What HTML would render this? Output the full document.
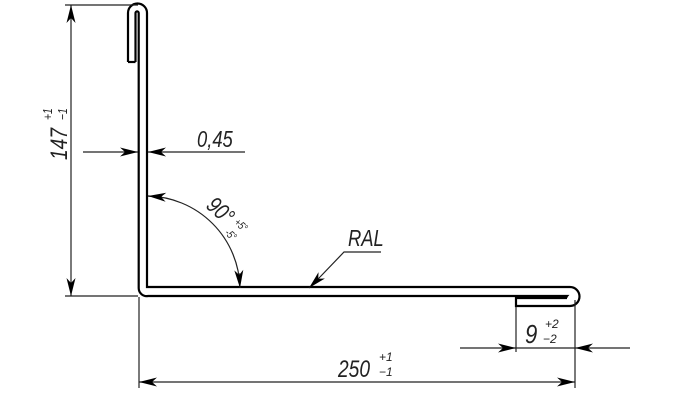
<!DOCTYPE html>
<html><head><meta charset="utf-8"><style>
html,body{margin:0;padding:0;background:#fff;}
svg{display:block;}
text{font-family:"Liberation Sans","DejaVu Sans",sans-serif;font-style:italic;fill:#222;}
</style></head><body>
<svg width="700" height="415" viewBox="0 0 700 415" xmlns="http://www.w3.org/2000/svg">
<defs>
<marker id="a" markerWidth="18" markerHeight="10" refX="18" refY="5" orient="auto" markerUnits="userSpaceOnUse">
<path d="M0,0.5 L18,5 L0,9.5 L5,5 Z" fill="#000"/></marker>
</defs>
<g fill="none" stroke="#000" stroke-width="2.2">
<path d="M128,62 L128,13 A9.5,9.5 0 0 1 147,13 L147,287 L570,287 A5,5 0 0 1 570,306 L516,306 L516,298 L567,298"/>
<path d="M135.5,62 L135.5,13 A1.6,1.6 0 0 1 138.7,13 L138.7,288 A8,8 0 0 0 148,296 L567,296 A1.5,1.5 0 0 0 567,298"/>
<path d="M128,62 L135.5,62"/>
</g>
<g fill="none" stroke="#222" stroke-width="1.2">
<line x1="65" y1="5" x2="138" y2="5"/>
<line x1="65" y1="296" x2="138" y2="296"/>
<line x1="139" y1="297" x2="139" y2="388"/>
<line x1="575" y1="300" x2="575" y2="388"/>
<line x1="516" y1="307" x2="516" y2="352"/>
<line x1="71" y1="22" x2="71" y2="280"/>
<line x1="71" y1="22" x2="71" y2="5" marker-end="url(#a)"/>
<line x1="71" y1="280" x2="71" y2="296" marker-end="url(#a)"/>
<line x1="83" y1="152" x2="138" y2="152" marker-end="url(#a)"/>
<line x1="245" y1="152" x2="148" y2="152" marker-end="url(#a)"/>
<path d="M148,196 A94,94 0 0 1 240,288"/>
<line x1="162" y1="197" x2="148" y2="196" marker-end="url(#a)"/>
<line x1="239" y1="273" x2="240" y2="288" marker-end="url(#a)"/>
<polyline points="381,252 344,252 320,277"/>
<line x1="320" y1="277" x2="309" y2="288" marker-end="url(#a)"/>
<line x1="160" y1="382" x2="555" y2="382"/>
<line x1="160" y1="382" x2="139" y2="382" marker-end="url(#a)"/>
<line x1="555" y1="382" x2="575" y2="382" marker-end="url(#a)"/>
<line x1="460" y1="348" x2="516" y2="348" marker-end="url(#a)"/>
<line x1="630" y1="348" x2="575" y2="348" marker-end="url(#a)"/>
<line x1="516" y1="348" x2="575" y2="348"/>
</g>
<g transform="translate(197,147) scale(0.8,1)"><text font-size="23">0,45</text></g>
<g transform="translate(348,246) scale(0.8,1)"><text font-size="23">RAL</text></g>
<g transform="translate(338,377) scale(0.8,1)"><text font-size="24">250</text></g>
<text x="379" y="361" font-size="12">+1</text>
<text x="379" y="376" font-size="12">−1</text>
<g transform="translate(525,343) scale(0.85,1)"><text font-size="26">9</text></g>
<text x="545" y="328" font-size="12">+2</text>
<text x="543" y="343" font-size="12">−2</text>
<g transform="translate(67,160) rotate(-90) scale(0.8,1)">
<text x="0" y="0" font-size="24">147</text>
<text x="50" y="-15" font-size="13">+1</text>
<text x="50" y="0" font-size="13">−1</text>
</g>
<g transform="translate(205,207) rotate(42) scale(0.8,1)">
<text x="0" y="0" font-size="23">90°</text>
<text x="40" y="-7" font-size="11">+5°</text>
<text x="40" y="7" font-size="11">-5°</text>
</g>
</svg>
</body></html>
